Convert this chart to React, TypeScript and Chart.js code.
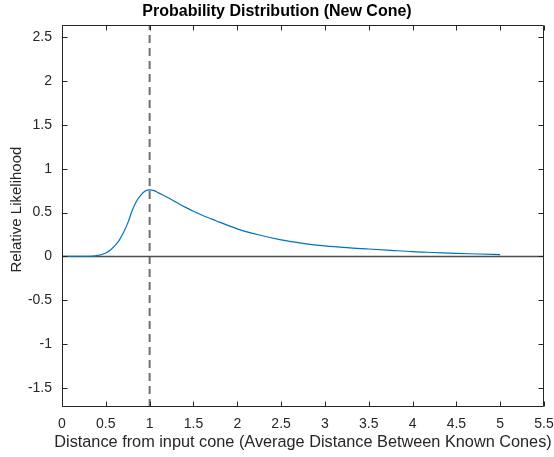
import React, { useEffect, useRef } from "react";
import { Chart, registerables } from "chart.js";

Chart.register(...registerables);

const chartTitle = "Probability Distribution (New Cone)";
const xAxisTitle = "Distance from input cone (Average Distance Between Known Cones)";
const yAxisTitle = "Relative Likelihood";

const distance = [
  0, 0.2, 0.3, 0.4, 0.5, 0.55, 0.6, 0.65, 0.7, 0.75, 0.8, 0.85, 0.9, 0.95, 1.0,
  1.05, 1.1, 1.2, 1.3, 1.4, 1.5, 1.6, 1.75, 2.0, 2.25, 2.5, 2.75, 3.0, 3.25,
  3.5, 3.75, 4.0, 4.25, 4.5, 4.75, 5.0,
];
const likelihood = [
  0, 0, 0.001, 0.01, 0.04, 0.07, 0.12, 0.18, 0.27, 0.38, 0.52, 0.63, 0.7,
  0.745, 0.758, 0.75, 0.725, 0.675, 0.62, 0.565, 0.515, 0.47, 0.41, 0.315,
  0.245, 0.19, 0.15, 0.12, 0.1, 0.085, 0.07, 0.055, 0.045, 0.035, 0.028, 0.02,
];

const xTicks = [0, 0.5, 1, 1.5, 2, 2.5, 3, 3.5, 4, 4.5, 5, 5.5];
const yTicks = [-1.5, -1, -0.5, 0, 0.5, 1, 1.5, 2, 2.5];
const xMin = 0;
const xMax = 5.5;
const yMin = -1.716;
const yMax = 2.636;
const markerX = 1;
const originStem = [0, 1];

const axisColor = "#262626";
const fontFamily = "'Liberation Sans', Arial, sans-serif";

const boxPlugin = {
  id: "matlabBox",
  afterDatasetsDraw(chart: any) {
    const { ctx, chartArea, scales } = chart;
    const l = Math.round(chartArea.left) + 0.5;
    const r = Math.round(chartArea.right) - 0.5;
    const t = Math.round(chartArea.top) + 0.5;
    const b = Math.round(chartArea.bottom) - 0.5;
    ctx.save();
    ctx.strokeStyle = axisColor;
    ctx.lineWidth = 1;
    ctx.setLineDash([]);
    ctx.beginPath();
    ctx.rect(l, t, r - l, b - t);
    const tl = 5;
    xTicks.forEach((v) => {
      const px = Math.round(scales.x.getPixelForValue(v)) + 0.5;
      ctx.moveTo(px, b);
      ctx.lineTo(px, b - tl);
      ctx.moveTo(px, t);
      ctx.lineTo(px, t + tl);
    });
    yTicks.forEach((v) => {
      const py = Math.round(scales.y.getPixelForValue(v)) + 0.5;
      ctx.moveTo(l, py);
      ctx.lineTo(l + tl, py);
      ctx.moveTo(r, py);
      ctx.lineTo(r - tl, py);
    });
    ctx.stroke();
    ctx.restore();
  },
  afterDraw(chart: any) {
    const { ctx, chartArea } = chart;
    ctx.save();
    ctx.fillStyle = axisColor;
    ctx.textAlign = "center";
    ctx.textBaseline = "middle";
    ctx.font = `16.3px ${fontFamily}`;
    ctx.fillText(xAxisTitle, (chartArea.left + chartArea.right) / 2, 443);
    ctx.translate(17, (chartArea.top + chartArea.bottom) / 2 - 6.5);
    ctx.rotate(-Math.PI / 2);
    ctx.font = `15px ${fontFamily}`;
    ctx.fillText(yAxisTitle, 0, 0);
    ctx.restore();
  },
};

const fmt = (v: number) => String(Number(Number(v).toFixed(2)));

export default function App() {
  const canvasRef = useRef<HTMLCanvasElement | null>(null);

  useEffect(() => {
    const canvas = canvasRef.current;
    if (!canvas) return;
    const curve = distance.map((x, i) => ({ x, y: likelihood[i] }));
    const chart = new Chart(canvas, {
      type: "line",
      data: {
        datasets: [
          {
            label: "likelihood",
            data: curve,
            borderColor: "#0072BD",
            borderWidth: 1.2,
            pointRadius: 0,
            cubicInterpolationMode: "monotone",
            fill: false,
            order: 0,
          },
          {
            label: "zero",
            data: [
              { x: xMin, y: 0 },
              { x: xMax, y: 0 },
            ],
            borderColor: "#4d4d4d",
            borderWidth: 1.5,
            pointRadius: 0,
            fill: false,
            order: 1,
          },
          {
            label: "marker",
            data: [
              { x: markerX, y: yMin },
              { x: markerX, y: yMax },
            ],
            borderColor: "#6e6e6e",
            borderWidth: 2,
            borderDash: [8, 5],
            pointRadius: 0,
            fill: false,
            order: 2,
          },
          {
            label: "origin",
            data: originStem.map((y) => ({ x: 0, y })),
            borderColor: "#333333",
            borderWidth: 2,
            borderDash: [8, 5],
            pointRadius: 0,
            fill: false,
            order: 3,
          },
        ],
      },
      options: {
        responsive: false,
        animation: false,
        devicePixelRatio: 1,
        layout: { padding: { left: 0, right: 0, top: 0, bottom: 0 } },
        plugins: {
          legend: { display: false },
          tooltip: { enabled: false },
          title: {
            display: true,
            text: chartTitle,
            color: "#000000",
            font: { family: fontFamily, size: 16, weight: "bold" },
            padding: { top: 2, bottom: 4 },
          },
        },
        scales: {
          x: {
            type: "linear",
            min: xMin,
            max: xMax,
            grid: { display: false, drawTicks: false },
            border: { display: false },
            afterBuildTicks: (scale: any) => {
              scale.ticks = xTicks.map((value) => ({ value }));
            },
            afterFit: (scale: any) => {
              scale.height = 50;
              scale.paddingLeft = 0;
              scale.paddingRight = 10;
            },
            ticks: {
              autoSkip: false,
              maxRotation: 0,
              padding: 9,
              color: axisColor,
              font: { family: fontFamily, size: 14 },
              callback: (v: any) => fmt(v),
            },
          },
          y: {
            type: "linear",
            min: yMin,
            max: yMax,
            grid: { display: false, drawTicks: false },
            border: { display: false },
            afterBuildTicks: (scale: any) => {
              scale.ticks = yTicks.map((value) => ({ value }));
            },
            afterFit: (scale: any) => {
              scale.width = 62;
            },
            ticks: {
              autoSkip: false,
              padding: 10,
              color: axisColor,
              font: { family: fontFamily, size: 14 },
              callback: (v: any) => fmt(v),
            },
          },
        },
      },
      plugins: [boxPlugin],
    } as any);
    return () => chart.destroy();
  }, []);

  return (
    <div style={{ position: "fixed", left: 0, top: 0, width: 554, height: 457, background: "#ffffff" }}>
      <canvas ref={canvasRef} width={554} height={457} style={{ display: "block" }} />
    </div>
  );
}
